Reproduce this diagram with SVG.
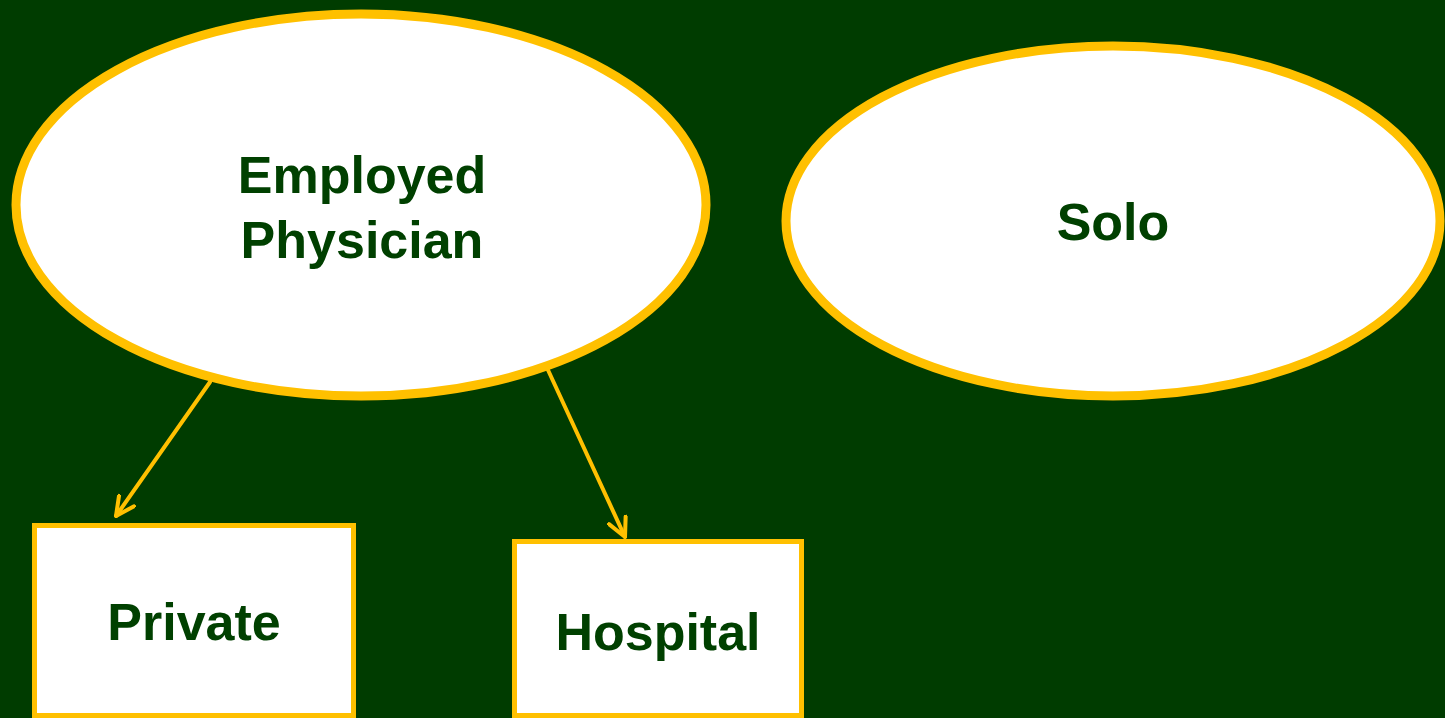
<svg xmlns="http://www.w3.org/2000/svg" width="1445" height="718" viewBox="0 0 1445 718">
<defs>
<style>
.bg{fill:#003c00}
.node{fill:#ffffff;stroke:#ffc000}
.ell{stroke-width:9}
.box{stroke-width:5}
.lbl{font-family:"Liberation Sans",Arial,sans-serif;font-weight:bold;font-size:52px;fill:#004000;text-anchor:middle}
.edge{stroke:#ffc000;stroke-width:4;fill:none;stroke-linecap:round}
</style>
<marker id="arr" viewBox="0 0 12 12" refX="11" refY="6" markerWidth="5.5" markerHeight="5.5" orient="auto" markerUnits="strokeWidth">
<path d="M1,1 L11,6 L1,11" fill="none" stroke="#ffc000" stroke-width="2.2" stroke-linecap="round" stroke-linejoin="round"/>
</marker>
</defs>
<rect class="bg" x="0" y="0" width="1445" height="718"/>
<g id="connectors">
<line class="edge" x1="210" y1="382" x2="116" y2="516" marker-end="url(#arr)"/>
<line class="edge" x1="548" y1="370" x2="625" y2="537" marker-end="url(#arr)"/>
</g>
<g id="employed">
<ellipse class="node ell" cx="361" cy="205" rx="345" ry="191"/>
<text class="lbl" x="362" y="193">Employed</text>
<text class="lbl" x="362" y="258">Physician</text>
</g>
<g id="solo">
<ellipse class="node ell" cx="1113" cy="221" rx="327" ry="175"/>
<text class="lbl" x="1113" y="240">Solo</text>
</g>
<g id="private">
<rect class="node box" x="34.5" y="525.5" width="319" height="190"/>
<text class="lbl" x="194" y="640">Private</text>
</g>
<g id="hospital">
<rect class="node box" x="514.5" y="541.5" width="287" height="174"/>
<text class="lbl" x="658" y="650">Hospital</text>
</g>
</svg>
